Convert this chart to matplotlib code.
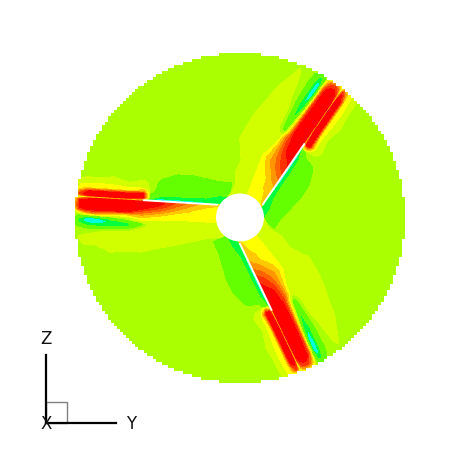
import numpy as np
import matplotlib
matplotlib.use("Agg")
import matplotlib.pyplot as plt
from matplotlib.patches import Circle, Polygon, Rectangle

# Blade-local sample tables (one row per spanwise station)
span_stations = [-12, 0, 12, 25, 42, 58, 68, 75, 90, 105, 120, 130, 138, 146]
back_offsets = [-34, -26, -20, -16, -12, -9, -6, -3, -1.5, -0.4]
front_offsets = [0.4, 1.5, 3, 6, 9, 12, 15, 18, 21, 24, 27, 30, 34, 40, 46, 52, 58]

back_side = [
    [0, -.2, -.8, -1, -1.2, -1.5, -1.7, -2, -2.3, -2.5],
    [0, -.2, -.8, -1, -1.2, -1.5, -1.7, -2, -2.3, -2.5],
    [0, -.4, -1, -1.1, -1.2, -1.3, -1.5, -2, -2.6, -3],
    [0, -.6, -1, -1.1, -1.2, -1.3, -1.4, -2, -3, -4],
    [0, -.6, -1, -1.1, -1.2, -1.3, -1.4, -2, -3.5, -5],
    [0, -.2, -.6, -.9, -1, -1.1, -1.2, -2, -3.5, -5],
    [0, 0, .2, .3, .2, 0, -.5, -1, -2, -4],
    [0, 0, .5, .9, 1.5, 3.5, 7, 7, 5, 2],
    [0, 0, .2, .6, 1.5, 2.2, 6.5, 7.2, 7, 3],
    [0, .2, .6, 1.1, 1.7, 2.4, 6.5, 7.3, 7, 3],
    [0, 0, .5, 1.2, 1.8, 2.5, 6.5, 7.3, 7, 2.5],
    [0, 0, .5, 1, 1.8, 2.5, 6.5, 7.2, 6.5, 2],
    [0, 0, .4, .9, 1.6, 2, 4, 6, 4, 1],
    [0] * 10,
]
front_side_left_blade = [
    [2.2, 2.2, 2.2, 2, 1.9, 1.8, 1.7, 1.5, 1.3, 1.1, .9, .7, .4, .2, 0, 0, 0],
    [2.6, 2.5, 2.4, 2.2, 2, 1.9, 1.7, 1.5, 1.3, 1.1, .9, .7, .45, .2, 0, 0, 0],
    [3, 2.8, 2.6, 2.3, 2.1, 1.9, 1.7, 1.5, 1.3, 1.1, .95, .8, .55, .3, 0, 0, 0],
    [4, 3.8, 3.5, 2.7, 2.3, 2.1, 1.8, 1.5, 1.3, 1.1, 1, .9, .7, .45, .1, 0, 0],
    [5.5, 5.3, 5, 4.2, 3.4, 2.4, 2, 1.5, 1.3, 1.1, 1, .9, .8, .65, .4, .1, 0],
    [7, 7, 6.9, 6.1, 4.9, 3.7, 2.5, 1.75, 1.3, 1.1, 1, .9, .8, .7, .55, .3, 0],
    [5, 7, 7.1, 7, 5.8, 4.3, 3, 2, 1.3, .6, .7, .85, .9, .8, .65, .45, .15],
    [3, 7, 7.3, 7.2, 6.5, 4.9, 3.5, 2.4, 1.3, -.6, .3, .8, .9, .8, .7, .5, .2],
    [3, 7, 7.3, 7.4, 7.2, 6.8, 3, .8, -.3, -1.8, -1.8, -.2, .8, .9, .7, .5, .2],
    [3, 7, 7.3, 7.4, 7.3, 7.1, 4, .8, -1.2, -2.4, -2, -.5, .7, .9, .8, .6, .3],
    [2.5, 7, 7.3, 7.4, 7.3, 7.1, 5, 1, -2.8, -3.2, -2.4, -.8, .4, .9, .6, .2, 0],
    [2, 6, 7, 7.3, 7.3, 7, 4.5, .5, -2.8, -3.2, -2, -.8, .2, .8, .6, .2, 0],
    [1, 4, 6.5, 7, 7, 6, 2, -.2, -1.5, -1.8, -1.2, -.4, .1, .5, .4, .1, 0],
    [0] * 17,
]
front_side_other_blades = [
    [2.2, 2.2, 2.2, 2, 1.9, 1.8, 1.7, 1.5, 1.3, 1.1, .9, .7, .4, .2, 0, 0, 0],
    [2.6, 2.5, 2.4, 2.2, 2, 1.9, 1.7, 1.5, 1.3, 1.1, .9, .7, .45, .2, 0, 0, 0],
    [3, 2.9, 2.7, 2.5, 2.3, 2.1, 1.9, 1.7, 1.5, 1.3, 1.1, .95, .8, .55, .3, 0, 0],
    [3.8, 3.7, 3.6, 3.4, 3, 2.5, 2.2, 1.9, 1.7, 1.5, 1.2, 1, .85, .6, .4, .1, 0],
    [6.4, 6.2, 6, 5.6, 5.1, 4.55, 4.1, 3.6, 3, 2.4, 1.6, 1.3, 1.1, .95, .8, .65, .45],
    [7.3, 7.3, 7.2, 7, 6.8, 6.2, 5.2, 4.1, 2.8, 1.5, 1.2, 1.1, 1, .9, .8, .65, .5],
    [6, 7.3, 7.4, 7.4, 7, 6.6, 5.8, 4.5, 2.8, 1, .8, .9, 1, .9, .8, .65, .5],
    [3, 7, 7.4, 7.4, 7.3, 7, 6.2, 3.5, 1, -.8, -.3, .4, .9, .9, .8, .7, .5],
    [3, 7, 7.4, 7.4, 7.4, 7.2, 6.2, 2.6, 0, -1.6, -1, -.1, .7, .9, .85, .7, .4],
    [3, 7, 7.4, 7.4, 7.4, 7.2, 6, 1.5, -1.5, -2.5, -1.5, -.7, .2, .8, .9, .7, .3],
    [2.5, 7, 7.4, 7.4, 7.4, 7.2, 5.5, .5, -3, -3.2, -1.5, -.7, -.2, .5, .8, .4, 0],
    [2, 6, 7, 7.4, 7.4, 7, 5, .5, -3, -3, -1.5, -.8, -.2, .4, .6, .2, 0],
    [1, 3, 5, 6, 6, 5, 3, .2, -1.5, -1.8, -1, -.6, -.2, .3, .4, .1, 0],
    [0] * 17,
]
band_levels = [-5, -4, -3, -2, -1, 0, 1, 2, 3, 4, 5, 6, 7]
band_colors = ["#0000ff", "#008cff", "#00ffdc", "#00ff3c", "#64ff00", "none", "#d2ff00",
               "#ffff00", "#ffc800", "#ff9600", "#ff6400", "#ff3200", "#ff0000"]
background_color = "#aaff00"

root_angles = [150, 29, -91]      # degrees, position of blade root on the hub
blade_angles = [176.5, 55.5, -64.5]  # degrees, blade direction
front_tables = [front_side_left_blade, front_side_other_blades, front_side_other_blades]
root_radius = 25.5
hub_radius = 24
disc_radius = 165
white_span = 75
axis_len_z = 68
axis_len_y = 70
box_size = 21
triad_origin = (-194, -205.5)

fig = plt.figure(figsize=(4.66, 4.66), dpi=100)
ax = fig.add_axes([0, 0, 1, 1])
ax.set_xlim(-240, 226)
ax.set_ylim(-248.5, 217.5)
ax.axis("off")

# stair-stepped disc outline, as the cell edges of the source mesh
step = 3
ys = np.arange(-disc_radius + step / 2, disc_radius, step)
half = np.round(np.sqrt(disc_radius ** 2 - ys ** 2) / step) * step
right = [(h, y + d) for y, h in zip(ys, half) for d in (-step / 2, step / 2)]
left = [(-h, y + d) for y, h in zip(ys[::-1], half[::-1]) for d in (step / 2, -step / 2)]
disc = Polygon(right + left, closed=True, facecolor=background_color, edgecolor="none", zorder=1)
ax.add_patch(disc)

U, V = np.meshgrid(span_stations, back_offsets + front_offsets, indexing="ij")
edges = [l - 0.5 for l in band_levels] + [band_levels[-1] + 0.5]
colors = [(0, 0, 0, 0) if c == "none" else c for c in band_colors]

for ra, ba, front in zip(root_angles, blade_angles, front_tables):
    Z = np.hstack([np.array(back_side, dtype=float), np.array(front, dtype=float)])
    ra, ba = np.radians(ra), np.radians(ba)
    ox, oy = root_radius * np.cos(ra), root_radius * np.sin(ra)
    dx, dy = np.cos(ba), np.sin(ba)
    nx, ny = -dy, dx
    X = ox + U * dx + V * nx
    Y = oy + U * dy + V * ny
    cs = ax.contourf(X, Y, Z, levels=edges, colors=colors, zorder=2)
    cs.set_clip_path(disc)
    ax.plot([ox, ox + white_span * dx], [oy, oy + white_span * dy],
            color="white", lw=1.4, zorder=3, solid_capstyle="butt")

ax.add_patch(Circle((0, 0), hub_radius, facecolor="white", edgecolor="none", zorder=4))

x0, y0 = triad_origin
ax.add_patch(Rectangle((x0, y0), box_size, box_size, facecolor="none",
                       edgecolor="#808080", lw=1.0, zorder=5))
ax.plot([x0, x0], [y0, y0 + axis_len_z], color="black", lw=1.6, zorder=6)
ax.plot([x0, x0 + axis_len_y], [y0, y0], color="black", lw=1.6, zorder=6)
ax.text(x0, y0 + axis_len_z + 16, "Z", ha="center", va="center", fontsize=12, color="#111111", zorder=7)
ax.text(x0 + axis_len_y + 15, y0 - 1, "Y", ha="center", va="center", fontsize=12, color="#111111", zorder=7)
ax.text(x0, y0 - 1, "X", ha="center", va="center", fontsize=12, color="#111111", zorder=7)

fig.savefig("out.png", dpi=100, facecolor="white")
